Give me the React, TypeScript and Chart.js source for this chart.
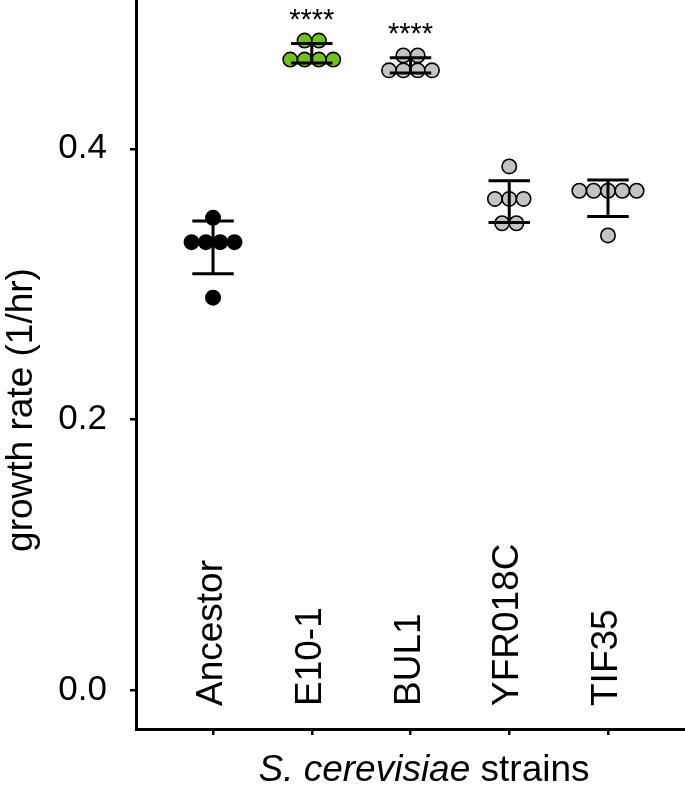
import React, { useEffect, useRef } from "react";
import { Chart, registerables } from "chart.js";

Chart.register(...registerables);

// ---- data ----
const STRAINS = ["Ancestor", "E10-1", "BUL1", "YFR018C", "TIF35"];
const ANCESTOR = [0.349, 0.331, 0.331, 0.331, 0.331, 0.29];
const E10_1 = [0.48, 0.48, 0.466, 0.466, 0.466, 0.466];
const BUL1 = [0.469, 0.469, 0.458, 0.458, 0.458, 0.458];
const YFR018C = [0.387, 0.363, 0.363, 0.363, 0.345, 0.345];
const TIF35 = [0.369, 0.369, 0.369, 0.369, 0.369, 0.336];
const SERIES = [ANCESTOR, E10_1, BUL1, YFR018C, TIF35];
const FILLS = ["#000000", "#72c020", "#c3c3c3", "#c3c3c3", "#c3c3c3"];
const SIGNIF = ["", "****", "****", "", ""];
const Y_TICKS = [0, 0.2, 0.4];
const Y_TITLE = "growth rate (1/hr)";
const X_TITLE_ITALIC = "S. cerevisiae";
const X_TITLE_REST = " strains";

const FONT = "'Liberation Sans', Arial, Helvetica, sans-serif";
const JITTER = 0.145;

function spread(values: number[]): number[] {
  const counts = new Map<number, number>();
  values.forEach((v) => counts.set(v, (counts.get(v) || 0) + 1));
  const seen = new Map<number, number>();
  return values.map((v) => {
    const n = counts.get(v) || 1;
    const k = seen.get(v) || 0;
    seen.set(v, k + 1);
    return (k - (n - 1) / 2) * JITTER;
  });
}

function meanSd(values: number[]) {
  const m = values.reduce((a, b) => a + b, 0) / values.length;
  const v = values.reduce((a, b) => a + (b - m) * (b - m), 0) / (values.length - 1);
  return { m, sd: Math.sqrt(v) };
}

const annotPlugin = {
  id: "annot",
  afterDatasetsDraw(chart: any) {
    const { ctx, scales } = chart;
    const xs = scales.x;
    const ys = scales.y;
    ctx.save();
    ctx.strokeStyle = "#000";
    ctx.lineWidth = 3;
    SERIES.forEach((vals, i) => {
      const { m, sd } = meanSd(vals);
      const x = xs.getPixelForValue(i);
      const xl = xs.getPixelForValue(i - 0.21);
      const xr = xs.getPixelForValue(i + 0.21);
      const yt = ys.getPixelForValue(m + sd);
      const yb = ys.getPixelForValue(m - sd);
      ctx.beginPath();
      ctx.moveTo(x, yt);
      ctx.lineTo(x, yb);
      ctx.moveTo(xl, yt);
      ctx.lineTo(xr, yt);
      ctx.moveTo(xl, yb);
      ctx.lineTo(xr, yb);
      ctx.stroke();
    });
    ctx.restore();
  },
  afterDraw(chart: any) {
    const { ctx, scales, chartArea } = chart;
    const xs = scales.x;
    const ys = scales.y;
    ctx.save();
    ctx.fillStyle = "#000";
    // significance stars
    ctx.font = `29px ${FONT}`;
    ctx.textAlign = "center";
    ctx.textBaseline = "alphabetic";
    SERIES.forEach((vals, i) => {
      if (!SIGNIF[i]) return;
      const top = ys.getPixelForValue(Math.max(...vals));
      ctx.fillText(SIGNIF[i], xs.getPixelForValue(i), top - 12);
    });
    // category labels, rotated, inside the plot area
    ctx.font = `37px ${FONT}`;
    STRAINS.forEach((s, i) => {
      ctx.save();
      ctx.translate(xs.getPixelForValue(i) - 1, chartArea.bottom - 23);
      ctx.rotate(-Math.PI / 2);
      ctx.textAlign = "left";
      ctx.textBaseline = "middle";
      ctx.fillText(s, 0, 0);
      ctx.restore();
    });
    // y title
    ctx.save();
    ctx.translate(22, 410);
    ctx.rotate(-Math.PI / 2);
    ctx.textAlign = "center";
    ctx.textBaseline = "middle";
    ctx.font = `37px ${FONT}`;
    ctx.fillText(Y_TITLE, 0, 0);
    ctx.restore();
    // x title (italic species name + normal word)
    const italicFont = `italic 37px ${FONT}`;
    const normalFont = `37px ${FONT}`;
    ctx.font = italicFont;
    const w1 = ctx.measureText(X_TITLE_ITALIC).width;
    ctx.font = normalFont;
    const w2 = ctx.measureText(X_TITLE_REST).width;
    const cx = chartArea.left + 288;
    const start = cx - (w1 + w2) / 2;
    ctx.textAlign = "left";
    ctx.textBaseline = "alphabetic";
    ctx.font = italicFont;
    ctx.fillText(X_TITLE_ITALIC, start, 781);
    ctx.font = normalFont;
    ctx.fillText(X_TITLE_REST, start + w1, 781);
    ctx.restore();
  },
};

export default function App() {
  const ref = useRef<HTMLCanvasElement>(null);
  useEffect(() => {
    if (!ref.current) return;
    const datasets = SERIES.map((vals, i) => {
      const offs = spread(vals);
      return {
        label: STRAINS[i],
        data: vals.map((v, j) => ({ x: i + offs[j], y: v })),
        backgroundColor: FILLS[i],
        borderColor: "#000",
        borderWidth: 1.6,
        pointRadius: 7.2,
        pointHoverRadius: 7.2,
      };
    });
    const axisGrid = {
      display: true,
      drawOnChartArea: false,
      drawTicks: true,
      tickLength: 6,
      color: "#000",
      lineWidth: 2.5,
    };
    const chart = new Chart(ref.current, {
      type: "scatter",
      data: { datasets },
      options: {
        animation: false,
        responsive: false,
        layout: { autoPadding: false, padding: { left: 0, right: 0, top: 0, bottom: 51 } },
        plugins: { legend: { display: false }, tooltip: { enabled: false } },
        scales: {
          x: {
            type: "linear",
            min: -0.78,
            max: 4.78,
            afterBuildTicks: (s: any) => {
              s.ticks = STRAINS.map((_, i) => ({ value: i }));
            },
            ticks: { display: false },
            grid: axisGrid,
            border: { display: true, color: "#000", width: 3 },
          },
          y: {
            type: "linear",
            min: -0.0288,
            max: 0.51,
            afterBuildTicks: (s: any) => {
              s.ticks = Y_TICKS.map((v) => ({ value: v }));
            },
            afterFit: (s: any) => {
              s.width = 136;
              s.paddingTop = 0;
              s.paddingBottom = 0;
            },
            ticks: {
              color: "#000",
              padding: 23,
              font: { size: 35, family: FONT },
              callback: (v: any) => Number(v).toFixed(1),
            },
            grid: axisGrid,
            border: { display: true, color: "#000", width: 3 },
          },
        },
      },
      plugins: [annotPlugin],
    } as any);
    return () => chart.destroy();
  }, []);
  return (
    <div style={{ position: "absolute", left: 0, top: 0, width: 685, height: 786, background: "#fff" }}>
      <canvas ref={ref} width={685} height={786} />
    </div>
  );
}
